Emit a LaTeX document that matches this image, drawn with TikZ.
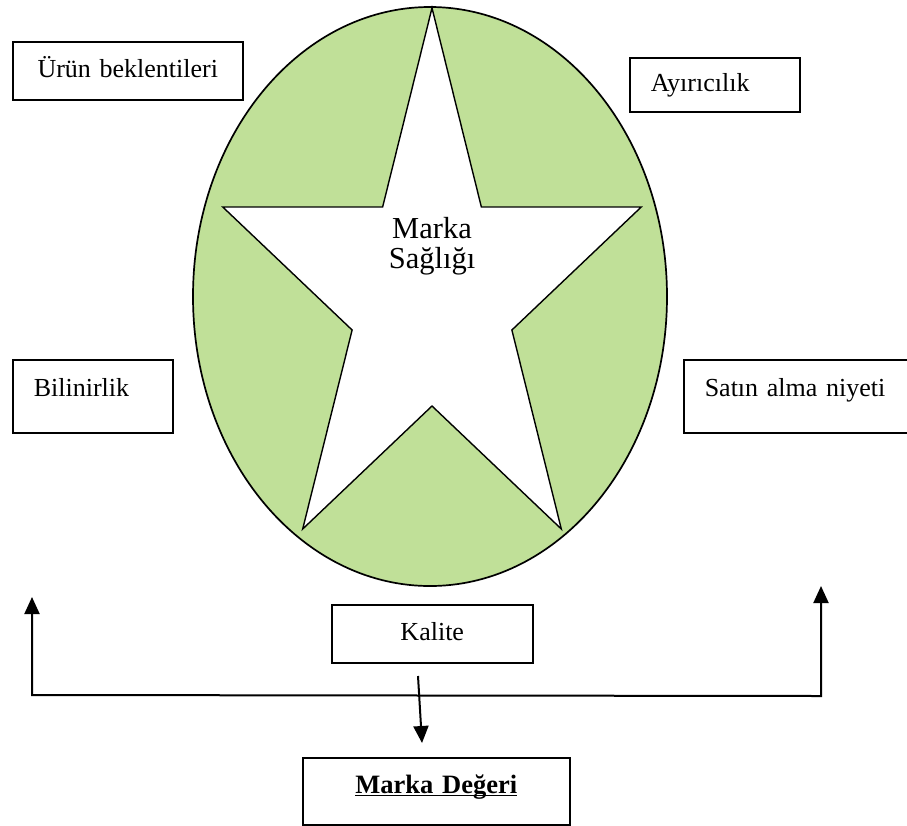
\documentclass[tikz,border=0pt]{standalone}
\usepackage{fontspec}
\setmainfont{Liberation Serif}
\usetikzlibrary{shapes.geometric,arrows.meta}
\definecolor{leafgreen}{RGB}{192,224,152}

\begin{document}
\begin{tikzpicture}[x=1pt, y=-1pt,
    >={Triangle[length=17pt,width=15pt]},
    box/.style={draw, line width=1.5pt, anchor=north west, inner xsep=21pt, inner ysep=0pt,
        text height=18pt, text depth=4pt, font=\fontsize{26}{30}\selectfont},
    arr/.style={line width=2pt}]
    \useasboundingbox (0,0) rectangle (907,825);
    \node[ellipse, draw, fill=leafgreen, line width=1.7pt, minimum width=474pt, minimum height=579pt, inner sep=0pt] (health) at (430,296.5) {};
    \begin{scope}[shift={(432,296)}]
        \draw[fill=white, line width=1.4pt, line join=miter] (270:220 and 288)
            \foreach \k in {0,...,3} { -- ({306+72*\k}:84 and 110) -- ({342+72*\k}:220 and 288) }
            -- (234:84 and 110) -- cycle;
    \end{scope}
    \node[align=center, inner sep=0pt, font=\fontsize{30.5}{30}\selectfont] (healthtext) at (432,246) {Marka\\Sağlığı};

    \node[box, align=center, minimum width=230pt, minimum height=58pt, text width=188pt] (expect) at (12,41) {Ürün beklentileri};
    \node[box, align=left, minimum width=170pt, minimum height=54pt, text width=128pt] (distinct) at (629,57) {Ayırıcılık};
    \node[box, align=left, minimum width=160pt, minimum height=73pt, text width=118pt, text depth=17pt] (aware) at (12,359) {Bilinirlik};
    \node[box, align=left, minimum width=240pt, minimum height=73pt, text width=198pt, text depth=17pt] (intent) at (683,359) {Satın alma niyeti};
    \node[box, align=center, minimum width=201pt, minimum height=58pt, text width=159pt] (quality) at (331,604) {Kalite};
    \node[box, align=center, minimum width=267pt, minimum height=67pt, text width=225pt, text depth=13pt,
        font=\fontsize{26.5}{30}\selectfont\bfseries] (value) at (302,757) {\underline{\smash{Marka Değeri}}};

    \coordinate (lefttip) at (32,597);
    \coordinate (leftfoot) at (32,695);
    \coordinate (rightfoot) at (821,696);
    \coordinate (righttip) at (821,586);
    \coordinate (qualityout) at (418,676);
    \coordinate (valuein) at (422,743);
    \draw[arr, <->] (lefttip) -- (leftfoot) -- (rightfoot) -- (righttip);
    \draw[arr, ->] (qualityout) -- (valuein);
\end{tikzpicture}
\end{document}
